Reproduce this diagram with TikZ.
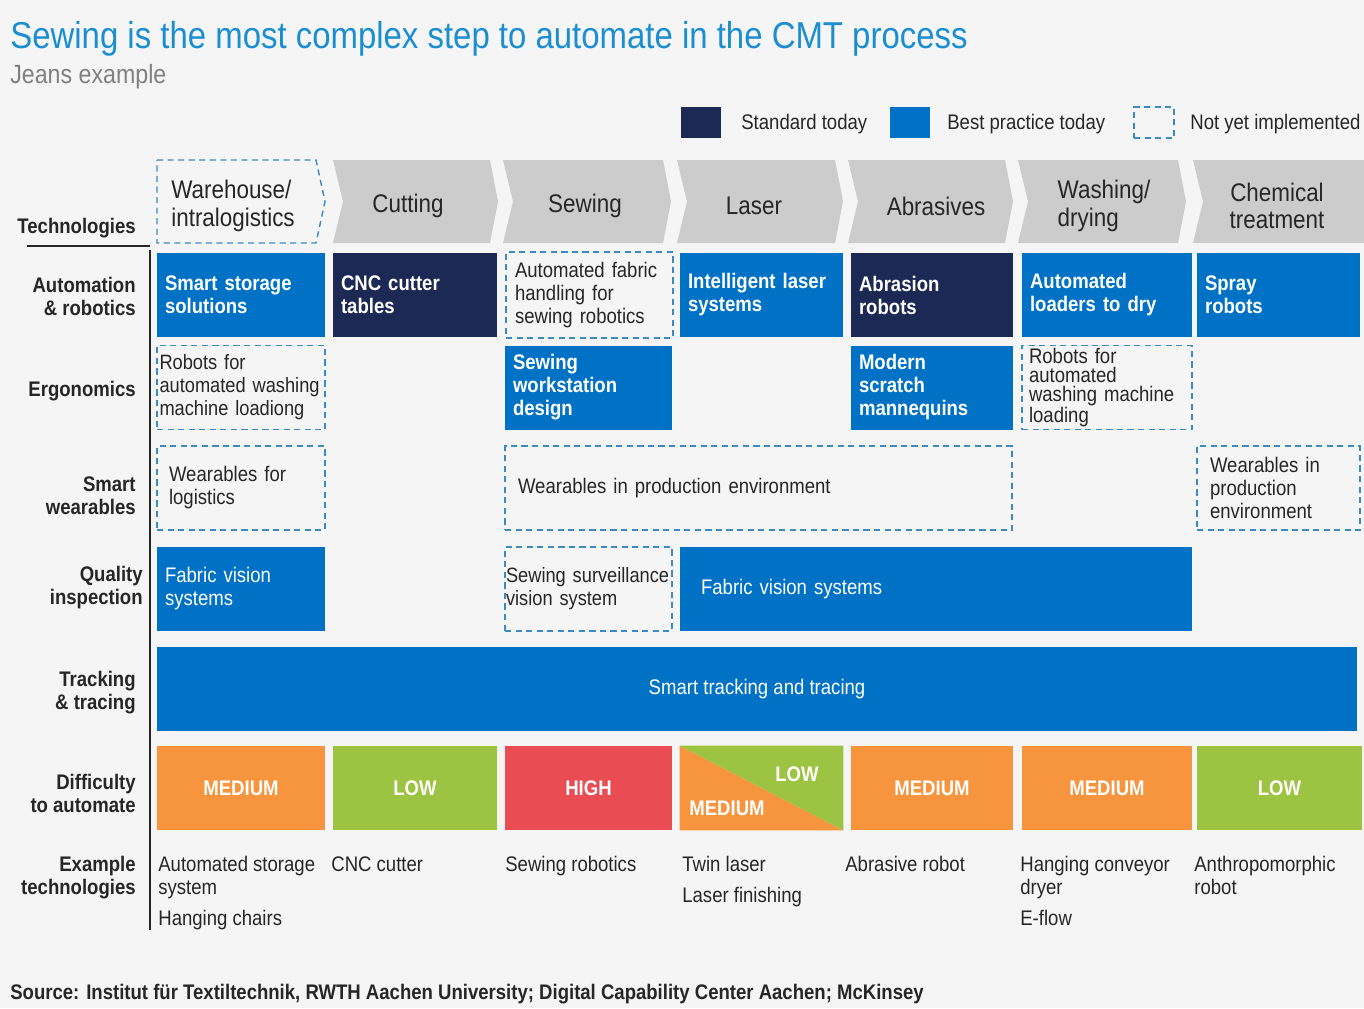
\documentclass[tikz,border=0pt]{standalone}
\usepackage{fontspec}
\setmainfont[FakeStretch=0.88]{Liberation Sans}
\usetikzlibrary{positioning}

\definecolor{titleblue}{RGB}{26,142,208}
\definecolor{cellblue}{RGB}{0,114,198}
\definecolor{navy}{RGB}{28,41,84}
\definecolor{dashblue}{RGB}{58,138,195}
\definecolor{chevgray}{RGB}{204,204,204}
\definecolor{lowgreen}{RGB}{156,196,66}
\definecolor{medorange}{RGB}{247,148,62}
\definecolor{highred}{RGB}{234,76,84}
\definecolor{bggray}{RGB}{245,245,245}
\definecolor{ink}{RGB}{38,38,38}

\tikzstyle{rowlbl}=[anchor=east, inner sep=0pt, align=right, text=ink, font=\bfseries\fontsize{12}{13.1}\selectfont]
\tikzstyle{stephead}=[inner sep=0pt, text=ink, font=\fontsize{14.5}{15.5}\selectfont]
\tikzstyle{techcell}=[minimum height=1.68cm, inner xsep=0.16cm, inner ysep=0pt, align=left, font=\fontsize{12}{13.1}\selectfont]
\tikzstyle{bestcell}=[techcell, fill=cellblue, text=white, font=\bfseries\fontsize{12}{13.1}\selectfont]
\tikzstyle{stdcell}=[techcell, fill=navy, text=white, font=\bfseries\fontsize{12}{13.1}\selectfont]
\tikzstyle{plaincell}=[techcell, fill=cellblue, text=white]
\tikzstyle{dashline}=[draw=dashblue, line width=0.8pt, dash pattern=on 3.5pt off 2.5pt]
\tikzstyle{futcell}=[techcell, dashline, text=ink]
\tikzstyle{diffbox}=[minimum height=1.68cm, inner sep=0pt, text=white, font=\bfseries\fontsize{12}{14}\selectfont]
\tikzstyle{extext}=[anchor=base west, inner sep=0pt, align=left, text=ink, font=\fontsize{12}{13.1}\selectfont]
\tikzstyle{keytext}=[anchor=base west, inner sep=0pt, text=ink, font=\fontsize{12}{14}\selectfont]

\hyphenpenalty=10000
\exhyphenpenalty=10000

\begin{document}
\begin{tikzpicture}[x=0.02cm, y=-0.02cm]
  \fill[bggray] (0,0) rectangle (1364,1008);
  \useasboundingbox (0,0) rectangle (1364,1008);

  \node[anchor=base west, inner sep=0pt, text=titleblue, font=\fontsize{21.3}{25}\selectfont] (title) at (10,48) {Sewing is the most complex step to automate in the CMT process};
  \node[anchor=base west, inner sep=0pt, text=gray, font=\fontsize{15}{18}\selectfont] (subtitle) at (10,83) {Jeans example};

  % legend
  \node[fill=navy, minimum width=0.8cm, minimum height=0.62cm, inner sep=0pt] (stdkey) at (701,122.5) {};
  \node[keytext] (stdtext) at (741,129) {Standard today};
  \node[fill=cellblue, minimum width=0.8cm, minimum height=0.62cm, inner sep=0pt] (bestkey) at (910,122.5) {};
  \node[keytext] (besttext) at (947,129) {Best practice today};
  \node[dashline, minimum width=0.8cm, minimum height=0.62cm, inner sep=0pt] (futkey) at (1154,122.5) {};
  \node[keytext] (futtext) at (1190,129) {Not yet implemented};

  % process steps
  \draw[dashline] (157,160) -- (316,160) -- (325,201.5) -- (316,243) -- (157,243) -- cycle;
  \node[stephead, anchor=west, align=left] (warehouse) at (171,206) {Warehouse/\\intralogistics};
  \foreach \l/\p/\cx/\nm/\txt in {333/498/408/cutting/Cutting, 503/671/585/sewing/Sewing, 677/843/754/laser/Laser, 848/1013/936/abrasives/Abrasives, 1018/1186/1104/washing/{Washing/\\drying}}
  {
    \fill[chevgray] (\l,160) -- (\p-8,160) -- (\p,201.5) -- (\p-8,243) -- (\l,243) -- (\l+10,201.5) -- cycle;
    \node[stephead, align=left] (\nm) at (\cx,206) {\txt};
  }
  \fill[chevgray] (1193,160) -- (1364,160) -- (1364,243) -- (1193,243) -- (1203,201.5) -- cycle;
  \node[stephead, align=center] (chemical) at (1277,206) {Chemical\\treatment};

  % row labels
  \node[rowlbl] (technologies) at (136,228) {Technologies};
  \draw[ink, line width=0.7pt] (27,246) -- (150,246);
  \draw[ink, line width=0.6pt] (150,250) -- (150,930);
  \node[rowlbl] (automation) at (136,296) {Automation\\\& robotics};
  \node[rowlbl] (ergonomics) at (136,391) {Ergonomics};
  \node[rowlbl] (wearables) at (136,496) {Smart\\wearables};
  \node[rowlbl] (quality) at (143,588) {Quality\\inspection};
  \node[rowlbl] (tracking) at (136,693) {Tracking\\\& tracing};
  \node[rowlbl] (difficulty) at (136,793) {Difficulty\\to automate};
  \node[rowlbl, anchor=base east] (examples) at (136,894) {Example\\technologies};

  % automation & robotics
  \node[bestcell, text width=3.04cm] (storage) at (241,295) {Smart storage\\solutions};
  \node[stdcell, text width=2.96cm] (cnc) at (415,295) {CNC cutter\\tables};
  \node[futcell, inner xsep=0.18cm, text width=2.98cm, minimum height=1.72cm] (fabric) at (589.5,295) {Automated fabric\\handling for\\sewing robotics};
  \node[bestcell, text width=2.94cm] (lasersys) at (761.5,295) {Intelligent laser\\systems};
  \node[stdcell, text width=2.92cm] (abrasion) at (932,295) {Abrasion\\robots};
  \node[bestcell, text width=3.08cm] (loaders) at (1107,295) {Automated\\loaders to dry};
  \node[bestcell, text width=2.94cm] (spray) at (1278.5,295) {Spray\\robots};

  % ergonomics
  \node[futcell, inner xsep=0.05cm, text width=3.26cm, font=\fontsize{11.8}{13.1}\selectfont] (washrobot) at (241,387.5) {Robots for\\automated washing\\machine loadiong};
  \node[bestcell, text width=3.02cm] (workstation) at (588.5,387.5) {Sewing\\workstation\\design};
  \node[bestcell, text width=2.92cm] (mannequins) at (932,387.5) {Modern\\scratch\\mannequins};
  \node[futcell, inner xsep=0.14cm, text width=3.12cm, font=\fontsize{12}{10.9}\selectfont] (washload) at (1107,387.5) {Robots for\\automated\\washing machine\\loading};

  % smart wearables
  \node[futcell, inner xsep=0.24cm, text width=2.88cm] (wearlog) at (241,488) {Wearables for\\logistics};
  \node[futcell, inner xsep=0.26cm, text width=9.62cm] (wearprod) at (758.5,488) {Wearables in production environment};
  \node[futcell, inner xsep=0.26cm, text width=2.74cm] (wearchem) at (1278.5,488) {Wearables in\\production\\environment};

  % quality inspection
  \node[plaincell, text width=3.04cm] (visioncut) at (241,589) {Fabric vision\\systems};
  \node[futcell, inner xsep=0.02cm, text width=3.3cm, font=\fontsize{11.8}{13.1}\selectfont] (surveil) at (588.5,589) {Sewing surveillance\\vision system};
  \node[plaincell, inner xsep=0.42cm, text width=9.4cm] (visionbig) at (936,589) {Fabric vision systems};

  % tracking & tracing
  \node[plaincell, minimum width=24cm, align=center] (tracing) at (757,689) {Smart tracking and tracing};

  % difficulty
  \node[diffbox, fill=medorange, minimum width=3.36cm] (diffware) at (241,788) {MEDIUM};
  \node[diffbox, fill=lowgreen, minimum width=3.28cm] (diffcut) at (415,788) {LOW};
  \node[diffbox, fill=highred, minimum width=3.34cm] (diffsew) at (588.5,788) {HIGH};
  \node[diffbox, minimum width=3.26cm] (difflaser) at (761.5,788) {};
  \fill[medorange] (difflaser.north west) -- (difflaser.south west) -- (difflaser.south east) -- cycle;
  \fill[lowgreen] (difflaser.north west) -- (difflaser.north east) -- (difflaser.south east) -- cycle;
  \node[diffbox, minimum height=0pt] (difflow) at (797,774) {LOW};
  \node[diffbox, minimum height=0pt] (diffmed) at (727,808) {MEDIUM};
  \node[diffbox, fill=medorange, minimum width=3.24cm] (diffabr) at (932,788) {MEDIUM};
  \node[diffbox, fill=medorange, minimum width=3.4cm] (diffwash) at (1107,788) {MEDIUM};
  \node[diffbox, fill=lowgreen, minimum width=3.3cm] (diffchem) at (1279.5,788) {LOW};

  % example technologies
  \node[extext] (exstorage) at (158,894) {Automated storage\\system};
  \node[extext] (exchairs) at (158,925) {Hanging chairs};
  \node[extext] (excnc) at (331,871) {CNC cutter};
  \node[extext] (exsew) at (505,871) {Sewing robotics};
  \node[extext] (extwin) at (682,871) {Twin laser};
  \node[extext] (exfinish) at (682,902) {Laser finishing};
  \node[extext] (exabr) at (845,871) {Abrasive robot};
  \node[extext] (exconv) at (1020,894) {Hanging conveyor\\dryer};
  \node[extext] (exflow) at (1020,925) {E-flow};
  \node[extext] (exanthro) at (1194,894) {Anthropomorphic\\robot};

  \node[anchor=base west, inner sep=0pt, text=ink, font=\bfseries\fontsize{12}{14}\selectfont] (source) at (10,999) {Source: Institut für Textiltechnik, RWTH Aachen University; Digital Capability Center Aachen; McKinsey};
\end{tikzpicture}
\end{document}
